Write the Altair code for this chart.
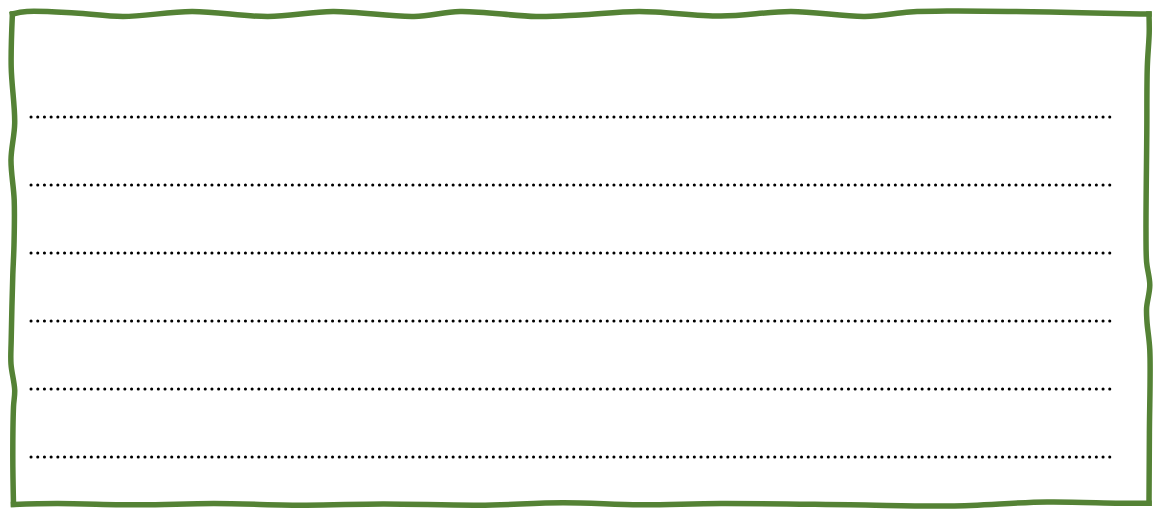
import altair as alt
import pandas as pd

# Wavy frame, page pixel coordinates (x, y)
top_x = [12.4, 27, 75, 123, 192, 268, 333, 414, 460, 536, 580, 639, 721, 791, 865, 910, 950, 1050, 1140, 1149.0]
top_y = [14.0, 11.5, 13.0, 16.5, 11.5, 16.5, 11.5, 16.5, 11.5, 16.5, 15.0, 11.5, 16.0, 11.5, 16.5, 12.0, 11.0, 12.0, 14.0, 14.0]

right_x = [1149.0, 1149.2, 1147.3, 1146.8, 1146.0, 1146.6, 1149.8, 1146.6, 1147.0, 1149.8, 1149.4, 1149.0]
right_y = [14.0, 33, 67, 133, 233, 262, 285, 308, 322, 350, 433, 503.2]

bottom_x = [13.5, 57, 140, 214, 306, 383, 479, 563, 640, 721, 850, 950, 1047, 1120, 1149.0]
bottom_y = [504.4, 503.6, 504.8, 503.6, 505.2, 504.0, 505.2, 502.8, 504.8, 503.6, 504.8, 506.0, 502.0, 503.2, 503.2]

left_x = [12.4, 11.2, 14.7, 11.0, 14.2, 14.0, 12.8, 11.2, 11.0, 14.7, 13.5, 12.8, 13.5]
left_y = [14.0, 67, 123, 160, 200, 245, 275, 340, 364, 390, 407, 457, 504.4]

# Dotted writing lines
line_y = [117, 185, 253, 321, 389, 457]
line_x_start = 31
line_x_end = 1113

rows = []
for name, xs, ys in [("top", top_x, top_y), ("right", right_x, right_y),
                     ("bottom", bottom_x, bottom_y), ("left", left_x, left_y)]:
    for i, (xv, yv) in enumerate(zip(xs, ys)):
        rows.append({"edge": name, "seq": i, "x": xv, "y": yv})
frame_df = pd.DataFrame(rows)

lines_df = pd.DataFrame({"y": line_y, "x1": [line_x_start] * len(line_y), "x2": [line_x_end] * len(line_y)})

xscale = alt.Scale(domain=[8, 1153], nice=False, zero=False)
yscale = alt.Scale(domain=[8, 509], nice=False, zero=False, reverse=True)

frame = alt.Chart(frame_df).mark_line(
    interpolate="catmull-rom", color="#548235", strokeWidth=5.5, strokeCap="square"
).encode(
    x=alt.X("x:Q", scale=xscale, axis=None),
    y=alt.Y("y:Q", scale=yscale, axis=None),
    detail="edge:N",
    order="seq:Q",
)

dots = alt.Chart(lines_df).mark_rule(
    color="#000000", strokeWidth=3, strokeDash=[0.1, 6.6], strokeCap="round"
).encode(
    x=alt.X("x1:Q", scale=xscale, axis=None),
    x2="x2:Q",
    y=alt.Y("y:Q", scale=yscale, axis=None),
)

chart = alt.layer(dots, frame).properties(
    width=1145, height=501, padding=0, autosize=alt.AutoSizeParams(type="none"),
    background="white",
).configure_view(stroke=None)

chart.save("out.html", embed_options={"renderer": "svg", "actions": False})
